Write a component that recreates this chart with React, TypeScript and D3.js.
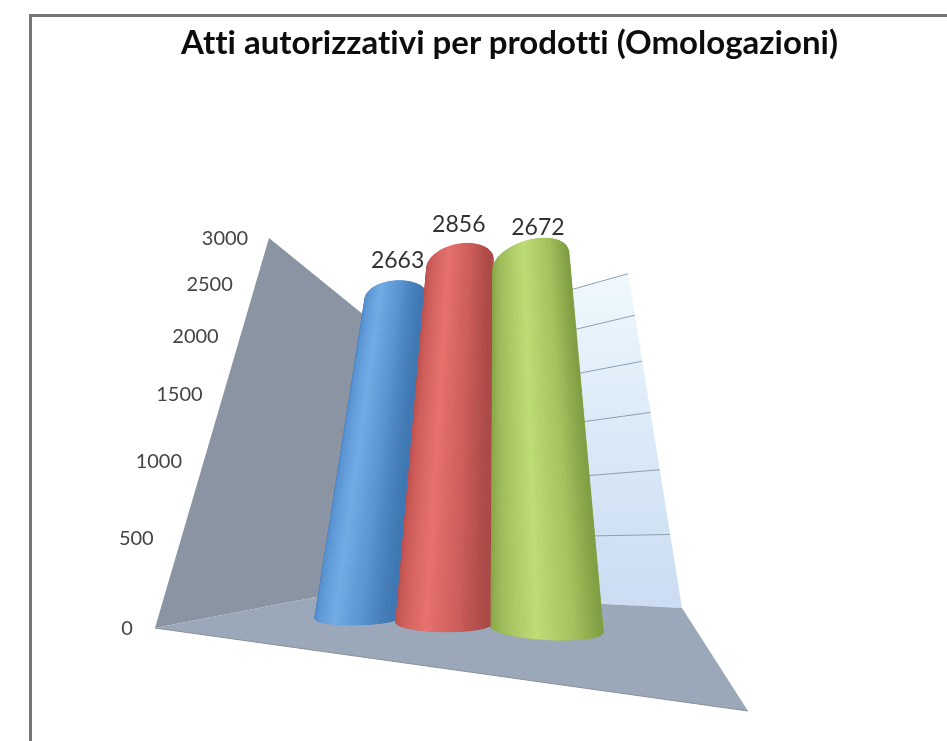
import React from "react";
import * as d3 from "d3";

const title = "Atti autorizzativi per prodotti (Omologazioni)";
const categories = ["A", "B", "C"];
const values = [2663, 2856, 2672];
const barShades = [
  ["#3d74b0", "#5a94d2", "#74aee8", "#5a94d2", "#3f76b2"],
  ["#b24d4a", "#cb5c59", "#e8736f", "#cf5f5c", "#a94a47"],
  ["#82a044", "#9fbd5c", "#bede78", "#a5c360", "#7f9d42"],
];
const shadeStops = [-1, -0.6, 0.05, 0.6, 1];
const ticks = [0, 500, 1000, 1500, 2000, 2500, 3000];
const tickLabelOffsets = [-28, -45, -45, -44, -45, -46, -44];
const valueLabelDx = [1, -1, 8];
const valueLabelDy = [-31, -34, -28];

type P2 = [number, number];
const W = 947, H = 741;
// Screen anchors of the plot box (front-left, front-right, back-right, back-left, axis top)
const boxA: P2 = [155, 628], boxB: P2 = [748, 711], boxC: P2 = [682, 608], boxD: P2 = [348, 591], boxE: P2 = [269, 238];
const axisPerspective = 1.5;

function fitProjection() {
  const [x0, y0] = boxA, [x1, y1] = boxB, [x2, y2] = boxC, [x3, y3] = boxD;
  const dx1 = x1 - x2, dx2 = x3 - x2, sx = x0 - x1 + x2 - x3;
  const dy1 = y1 - y2, dy2 = y3 - y2, sy = y0 - y1 + y2 - y3;
  const den = dx1 * dy2 - dx2 * dy1;
  const g = (sx * dy2 - dx2 * sy) / den;
  const h = (dx1 * sy - sx * dy1) / den;
  const p1 = [x1 - x0 + g * x1, y1 - y0 + g * y1, g];
  const p2 = [x3 - x0 + h * x3, y3 - y0 + h * y3, h];
  const p4 = [x0, y0, 1];
  const k = axisPerspective;
  const p3 = [k * boxE[0] - x0, k * boxE[1] - y0, k - 1];
  return (u: number, v: number, z: number): P2 => {
    const c = [0, 1, 2].map((i) => p1[i] * u + p2[i] * v + p3[i] * z + p4[i]);
    return [c[0] / c[2], c[1] / c[2]];
  };
}
const project = fitProjection();

const zAxis = d3.scaleLinear().domain([0, 3000]).range([0, 1]);
const zBars = d3.scaleLinear().domain([0, 3000]).range([0, 0.935]);
const uBand = d3.scalePoint<string>().domain(categories).range([0.33, 0.745]);
const depth = d3.scaleLinear().domain([0.33, 0.745]).range([0.41, 0.465]);
const radiusU = 0.104, radiusV = 0.14;
const stripCount = 48;

const line = d3.line();
const poly = (pts: P2[]) => line(pts)! + "Z";

function Bars() {
  return (
    <g>
      {categories.map((c, i) => {
        const u = uBand(c)!, v = depth(u), zT = zBars(values[i]);
        const circle = (z: number) =>
          d3.range(0, 72).map((k) => {
            const a = (k / 72) * 2 * Math.PI;
            return project(u + radiusU * Math.cos(a), v + radiusV * Math.sin(a), z);
          });
        const hull = d3.polygonHull([...circle(0), ...circle(zT)]) as P2[];
        const shade = d3.scaleLinear<string>().domain(shadeStops).range(barShades[i]).interpolate(d3.interpolateRgb);
        const s = d3.scaleLinear().domain([0, stripCount]).range([-1, 1]);
        const surfaceAt = (t: number, z: number): P2 => project(u + radiusU * t, v - radiusV * Math.sqrt(1 - t * t), z);
        return (
          <g key={c}>
            <path d={poly(hull)} fill={barShades[i][0]} />
            {d3.range(stripCount).map((k) => {
              const a = s(k), b = s(k + 1), col = shade((a + b) / 2);
              return (
                <path key={k} d={poly([surfaceAt(a, 0), surfaceAt(b, 0), surfaceAt(b, zT), surfaceAt(a, zT)])} fill={col} stroke={col} strokeWidth={0.6} />
              );
            })}
          </g>
        );
      })}
    </g>
  );
}

export default function App() {
  const font = "Lato, 'Open Sans', sans-serif";
  const zBack = zBars.range()[1];
  const labelPos = categories.map((c, i) => {
    const u = uBand(c)!;
    return project(u, depth(u), zBars(values[i]));
  });
  return (
    <svg width={W} height={H} style={{ position: "absolute", left: 0, top: 0, display: "block", background: "#fff", fontVariantLigatures: "none" }} fontFamily={font}>
      <defs>
        <filter id="soft" x="-5%" y="-5%" width="110%" height="110%">
          <feGaussianBlur stdDeviation="0.7" />
        </filter>
        <linearGradient id="backWall" x1="0" y1="1" x2="0" y2="0">
          <stop offset="0" stopColor="#cbdcf3" />
          <stop offset="0.5" stopColor="#d9e9f7" />
          <stop offset="1" stopColor="#eff8fd" />
        </linearGradient>
      </defs>
      <path d={`M30.5 ${H}V15.5H${W}`} fill="none" stroke="#767676" strokeWidth={3} />
      <g filter="url(#soft)">
        <path d={poly([project(0, 0, 0), project(0, 0, 1), project(0, 1, 1), project(0, 1, 0)])} fill="#8a94a3" />
        <path d={poly([project(0, 1, 0), project(0, 1, zBack), project(1, 1, zBack), project(1, 1, 0)])} fill="url(#backWall)" />
        {ticks.slice(1).map((t) => (
          <path key={t} d={line([project(0, 1, zBars(t)), project(1, 1, zBars(t))])!} stroke="#8ba0b0" strokeWidth={1} fill="none" />
        ))}
        <path d={poly([project(0, 0, 0), project(1, 0, 0), project(1, 1, 0), project(0, 1, 0)])} fill="#9ba8b9" />
        <path d={line([project(0, 0, 0), project(1, 0, 0)])!} stroke="#8b8f96" strokeWidth={1} fill="none" />
        <Bars />
      </g>
      <g filter="url(#soft)" fill="#333">
        <text x={509.5} y={54} fontSize={32} fontWeight={700} textAnchor="middle" fill="#111" textLength={657} lengthAdjust="spacingAndGlyphs">{title}</text>
        {ticks.map((t, i) => {
          const p = project(0, 0, zAxis(t));
          return (
            <text key={t} x={p[0] + tickLabelOffsets[i]} y={p[1] + 7} fontSize={20} textAnchor="middle" fill="#444">{t}</text>
          );
        })}
        {values.map((v, i) => (
          <text key={i} x={labelPos[i][0] + valueLabelDx[i]} y={labelPos[i][1] + valueLabelDy[i]} fontSize={23} textAnchor="middle">{v}</text>
        ))}
      </g>
    </svg>
  );
}
